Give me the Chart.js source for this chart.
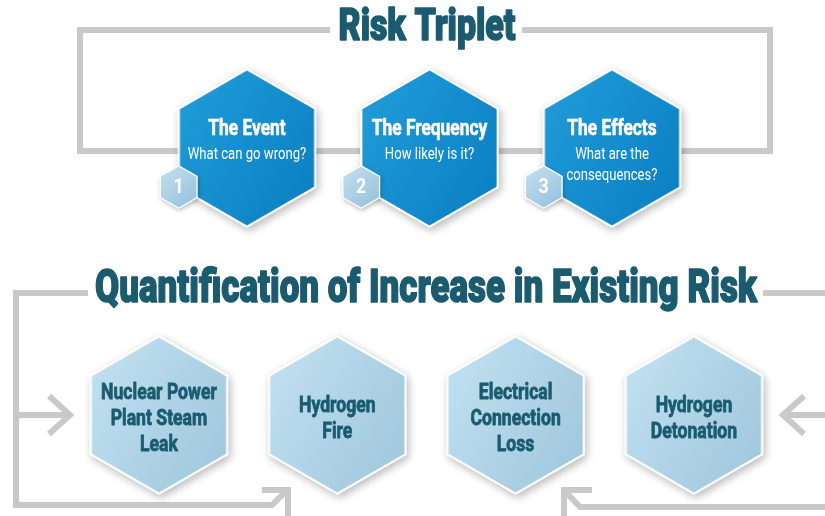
<!DOCTYPE html>
<html>
<head>
<meta charset="utf-8">
<script src="https://cdn.jsdelivr.net/npm/chart.js@4.4.1/dist/chart.umd.min.js"></script>
<style>
  html, body { margin: 0; padding: 0; background: #fff; }
  #wrap { width: 825px; height: 516px; }
</style>
</head>
<body>
<div id="wrap"><canvas id="riskChart"></canvas></div>
<script>
// texts of the infographic
const topTitle = 'Risk Triplet';
const bottomTitle = 'Quantification of Increase in Existing Risk';
const tripletSteps = ['The Event', 'The Frequency', 'The Effects'];
const tripletQuestions = [['What can go wrong?'], ['How likely is it?'], ['What are the', 'consequences?']];
const stepNumbers = ['1', '2', '3'];
const riskEvents = [['Nuclear Power', 'Plant Steam', 'Leak'], ['Hydrogen', 'Fire'], ['Electrical', 'Connection', 'Loss'], ['Hydrogen', 'Detonation']];

const HEX_R = 80;
const LINE = '#c9c9c9';
const TEAL = '#1b5b70';
const FONT = 'Roboto, "Liberation Sans", sans-serif';

function hexPath(ctx, cx, cy, r) {
  ctx.beginPath();
  for (let k = 0; k < 6; k++) {
    const a = Math.PI / 180 * (60 * k - 90);
    const px = cx + r * Math.cos(a), py = cy + r * Math.sin(a);
    if (k === 0) ctx.moveTo(px, py); else ctx.lineTo(px, py);
  }
  ctx.closePath();
}

// hexagon picture used as the point style
function hexImage(c1, c2) {
  const pad = 12;
  const c = document.createElement('canvas');
  c.width = Math.round(HEX_R * Math.sqrt(3)) + pad * 2;
  c.height = HEX_R * 2 + pad * 2;
  const g = c.getContext('2d');
  const cx = c.width / 2, cy = c.height / 2;
  g.save();
  g.shadowColor = 'rgba(0,0,0,0.28)';
  g.shadowBlur = 8;
  g.shadowOffsetX = 2;
  g.shadowOffsetY = 3;
  hexPath(g, cx, cy, HEX_R);
  g.fillStyle = '#fff';
  g.fill();
  g.restore();
  const grad = g.createLinearGradient(cx - 70, cy - 40, cx + 70, cy + 40);
  grad.addColorStop(0, c1);
  grad.addColorStop(1, c2);
  hexPath(g, cx, cy, HEX_R - 2.5);
  g.fillStyle = grad;
  g.fill();
  return c;
}

// condensed text, optionally thickened with a thin outline
function fillCondensed(ctx, text, x, y, sx, thick) {
  ctx.save();
  ctx.translate(x, y);
  ctx.scale(sx, 1);
  ctx.fillText(text, 0, 0);
  if (thick) {
    ctx.lineWidth = thick;
    ctx.strokeStyle = ctx.fillStyle;
    ctx.lineJoin = 'round';
    ctx.strokeText(text, 0, 0);
  }
  ctx.restore();
}

function fitText(ctx, text, x, y, w, thick) {
  const m = ctx.measureText(text).width;
  fillCondensed(ctx, text, x, y, w / m, thick);
}

const framePlugin = {
  id: 'frame',
  beforeDatasetsDraw(chart) {
    const ctx = chart.ctx;
    ctx.save();
    ctx.strokeStyle = LINE;
    ctx.lineWidth = 6;
    ctx.lineJoin = 'miter';
    ctx.lineCap = 'butt';
    // top loop
    ctx.beginPath();
    ctx.moveTo(330, 30); ctx.lineTo(80, 30); ctx.lineTo(80, 151);
    ctx.lineTo(770, 151); ctx.lineTo(770, 30); ctx.lineTo(522, 30);
    ctx.stroke();
    // bottom left loop
    ctx.beginPath();
    ctx.moveTo(88, 293); ctx.lineTo(16, 293); ctx.lineTo(16, 505);
    ctx.lineTo(272, 505); ctx.lineTo(287, 490);
    ctx.stroke();
    ctx.beginPath();
    ctx.moveTo(262, 490); ctx.lineTo(288, 490); ctx.lineTo(288, 520);
    ctx.stroke();
    ctx.beginPath();
    ctx.moveTo(16, 415); ctx.lineTo(69, 415);
    ctx.stroke();
    ctx.beginPath();
    ctx.moveTo(49, 396); ctx.lineTo(70, 415); ctx.lineTo(49, 434);
    ctx.stroke();
    // bottom right
    ctx.beginPath();
    ctx.moveTo(763, 293); ctx.lineTo(830, 293);
    ctx.stroke();
    ctx.beginPath();
    ctx.moveTo(830, 415); ctx.lineTo(784, 415);
    ctx.stroke();
    ctx.beginPath();
    ctx.moveTo(804, 396); ctx.lineTo(783, 415); ctx.lineTo(804, 434);
    ctx.stroke();
    ctx.beginPath();
    ctx.moveTo(830, 507); ctx.lineTo(580, 507); ctx.lineTo(565, 491);
    ctx.stroke();
    ctx.beginPath();
    ctx.moveTo(592, 490); ctx.lineTo(564, 490); ctx.lineTo(564, 520);
    ctx.stroke();
    ctx.restore();
  },
  afterDatasetsDraw(chart) {
    const ctx = chart.ctx;
    ctx.save();
    ctx.textAlign = 'center';
    ctx.textBaseline = 'middle';

    // titles
    ctx.fillStyle = TEAL;
    ctx.font = '900 44px ' + FONT;
    fitText(ctx, topTitle, 427, 29, 177, 1.6);
    ctx.font = '900 47px ' + FONT;
    fitText(ctx, bottomTitle, 426, 290, 662, 1.6);

    // triplet hexagons: texts and number badges
    const topMeta = chart.getDatasetMeta(0);
    topMeta.data.forEach((pt, i) => {
      ctx.fillStyle = '#fff';
      ctx.font = 'bold 22px ' + FONT;
      fillCondensed(ctx, tripletSteps[i], pt.x, pt.y - 18, 0.79, 0.6);
      ctx.font = '16px ' + FONT;
      tripletQuestions[i].forEach((line, k) => {
        fillCondensed(ctx, line, pt.x, pt.y + 7 + k * 21, 0.82);
      });

      const bx = pt.x - HEX_R * Math.sqrt(3) / 2 + 1, by = pt.y + HEX_R / 2 - 1;
      ctx.save();
      ctx.shadowColor = 'rgba(0,0,0,0.25)';
      ctx.shadowBlur = 4;
      ctx.shadowOffsetX = 1;
      ctx.shadowOffsetY = 2;
      hexPath(ctx, bx, by, 22);
      ctx.fillStyle = '#fff';
      ctx.fill();
      ctx.restore();
      const bg = ctx.createLinearGradient(bx - 18, by - 20, bx + 18, by + 20);
      bg.addColorStop(0, '#c4e0ef');
      bg.addColorStop(1, '#94c0d9');
      hexPath(ctx, bx, by, 20.5);
      ctx.fillStyle = bg;
      ctx.fill();
      ctx.fillStyle = '#fff';
      ctx.font = 'bold 21px ' + FONT;
      fillCondensed(ctx, stepNumbers[i], bx, by + 1, 0.85);
    });

    // risk event hexagons
    const botMeta = chart.getDatasetMeta(1);
    botMeta.data.forEach((pt, i) => {
      const lines = riskEvents[i];
      ctx.fillStyle = TEAL;
      ctx.font = 'bold 22px ' + FONT;
      lines.forEach((line, k) => {
        fillCondensed(ctx, line, pt.x, pt.y + 5 - (lines.length - 1) * 13 + k * 26, 0.8, 0.8);
      });
    });
    ctx.restore();
  }
};

const topHex = hexImage('#1f9bd7', '#0c80c3');
const botHex = hexImage('#bfe0f0', '#a1c8dd');

new Chart(document.getElementById('riskChart'), {
  type: 'scatter',
  data: {
    datasets: [
      {
        label: 'Risk Triplet',
        data: tripletSteps.map((s, i) => ({ x: i, y: 1 })),
        xAxisID: 'xTop',
        pointStyle: topHex,
        pointRadius: HEX_R,
        clip: false
      },
      {
        label: 'Risk events',
        data: riskEvents.map((s, i) => ({ x: i, y: 0 })),
        xAxisID: 'xBot',
        pointStyle: botHex,
        pointRadius: HEX_R,
        clip: false
      }
    ]
  },
  options: {
    responsive: true,
    maintainAspectRatio: false,
    animation: false,
    events: [],
    layout: { padding: 0, autoPadding: false },
    plugins: { legend: { display: false }, tooltip: { enabled: false } },
    scales: {
      xTop: { type: 'linear', display: false, min: -1.353, max: 3.167 },
      xBot: { type: 'linear', display: false, min: -0.8916, max: 3.735 },
      y: { type: 'linear', display: false, min: -0.3783, max: 1.5543 }
    }
  },
  plugins: [framePlugin]
});
</script>
</body>
</html>
